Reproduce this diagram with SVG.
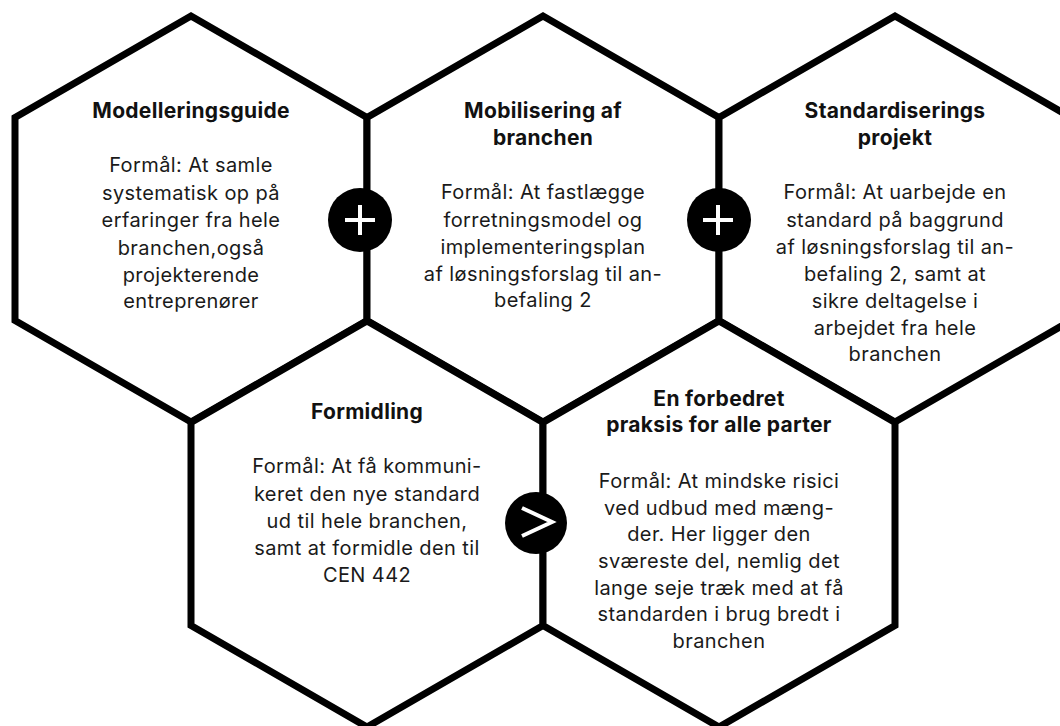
<svg xmlns="http://www.w3.org/2000/svg" width="1060" height="726" viewBox="0 0 1060 726">
  <style>
    .hex { fill: #ffffff; stroke: #000000; stroke-width: 7; stroke-linejoin: miter; }
    .title { font-family: Inter, "Liberation Sans", sans-serif; font-weight: 700; font-size: 21px; letter-spacing: 0.3px; fill: #111111; text-anchor: middle; }
    .body { font-family: Inter, "Liberation Sans", sans-serif; font-weight: 400; font-size: 20px; letter-spacing: 0.4px; fill: #1a1a1a; text-anchor: middle; }
    .badge { fill: #000000; }
    .sym { stroke: #ffffff; stroke-width: 4; fill: none; stroke-linecap: butt; }
  </style>
  <rect width="1060" height="726" fill="#ffffff"/>

  <!-- honeycomb cells -->
  <g id="modelleringsguide">
    <polygon class="hex" points="191,16 367,117.5 367,320.5 191,422 15,320.5 15,117.5"/>
    <text class="title" x="191" y="118">Modelleringsguide</text>
    <text class="body" x="191" y="172">Formål: At samle</text>
    <text class="body" x="191" y="199.5">systematisk op på</text>
    <text class="body" x="191" y="227">erfaringer fra hele</text>
    <text class="body" x="191" y="254.5">branchen,også</text>
    <text class="body" x="191" y="282">projekterende</text>
    <text class="body" x="191" y="308">entreprenører</text>
  </g>

  <g id="mobilisering">
    <polygon class="hex" points="543,16 719,117.5 719,320.5 543,422 367,320.5 367,117.5"/>
    <text class="title" x="543" y="118">Mobilisering af</text>
    <text class="title" x="543" y="145">branchen</text>
    <text class="body" x="543" y="199">Formål: At fastlægge</text>
    <text class="body" x="543" y="226.5">forretningsmodel og</text>
    <text class="body" x="543" y="253.5">implementeringsplan</text>
    <text class="body" x="543" y="280.5">af løsningsforslag til an-</text>
    <text class="body" x="543" y="307">befaling 2</text>
  </g>

  <g id="standardisering">
    <polygon class="hex" points="895,16 1071,117.5 1071,320.5 895,422 719,320.5 719,117.5"/>
    <text class="title" x="895" y="118">Standardiserings</text>
    <text class="title" x="895" y="145">projekt</text>
    <text class="body" x="895" y="199">Formål: At uarbejde en</text>
    <text class="body" x="895" y="226.5">standard på baggrund</text>
    <text class="body" x="895" y="254">af løsningsforslag til an-</text>
    <text class="body" x="895" y="281">befaling 2, samt at</text>
    <text class="body" x="895" y="307.5">sikre deltagelse i</text>
    <text class="body" x="895" y="334.5">arbejdet fra hele</text>
    <text class="body" x="895" y="361">branchen</text>
  </g>

  <g id="formidling">
    <polygon class="hex" points="367,321 543,422.5 543,625.5 367,727 191,625.5 191,422.5"/>
    <text class="title" x="367" y="419">Formidling</text>
    <text class="body" x="367" y="473">Formål: At få kommuni-</text>
    <text class="body" x="367" y="500.5">keret den nye standard</text>
    <text class="body" x="367" y="528">ud til hele branchen,</text>
    <text class="body" x="367" y="555">samt at formidle den til</text>
    <text class="body" x="367" y="582">CEN 442</text>
  </g>

  <g id="forbedret-praksis">
    <polygon class="hex" points="719,321 895,422.5 895,625.5 719,727 543,625.5 543,422.5"/>
    <text class="title" x="719" y="405.5">En forbedret</text>
    <text class="title" x="719" y="432">praksis for alle parter</text>
    <text class="body" x="719" y="488">Formål: At mindske risici</text>
    <text class="body" x="719" y="514.5">ved udbud med mæng-</text>
    <text class="body" x="719" y="541">der. Her ligger den</text>
    <text class="body" x="719" y="568">sværeste del, nemlig det</text>
    <text class="body" x="719" y="594.5">lange seje træk med at få</text>
    <text class="body" x="719" y="621">standarden i brug bredt i</text>
    <text class="body" x="719" y="648">branchen</text>
  </g>

  <!-- operator badges between the cells -->
  <g id="connectors">
    <g id="plus-1">
      <circle class="badge" cx="360" cy="220" r="32"/>
      <path class="sym" d="M345,220 H375 M360,205 V235"/>
    </g>
    <g id="plus-2">
      <circle class="badge" cx="719" cy="220" r="32"/>
      <path class="sym" d="M703,220 H733 M718,205 V235"/>
    </g>
    <g id="then">
      <circle class="badge" cx="536" cy="523" r="31"/>
      <path class="sym" d="M522,508 L552,522 L522,536"/>
    </g>
  </g>
</svg>
